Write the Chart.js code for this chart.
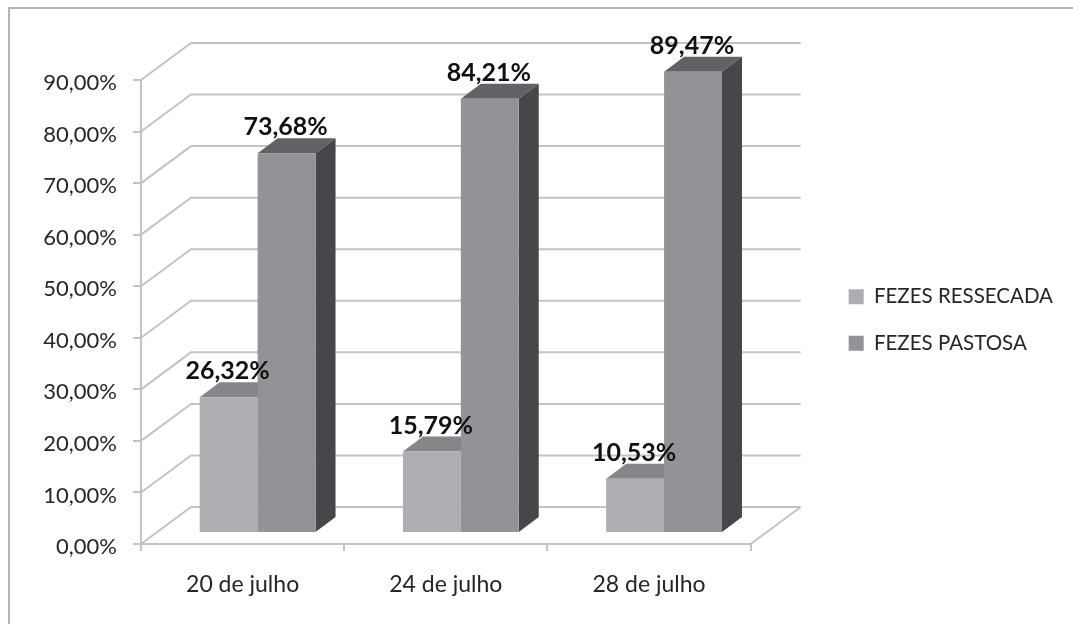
<!DOCTYPE html>
<html>
<head>
<meta charset="utf-8">
<script src="https://cdn.jsdelivr.net/npm/chart.js@4"></script>
<style>
  html, body { margin: 0; padding: 0; background: #fff; overflow: hidden; }
  #wrap { position: relative; width: 1073px; height: 624px; }
  #frame { position: absolute; left: 8px; top: 7px; right: 0; bottom: 0; border-left: 2px solid #b4b4b4; border-top: 2px solid #b4b4b4; }
  #mycanvas { position: absolute; left: 0; top: 0; }
</style>
</head>
<body>
<div id="wrap">
  <div id="frame"></div>
  <canvas id="mycanvas" width="1073" height="624"></canvas>
</div>
<script>
var categories = ["20 de julho", "24 de julho", "28 de julho"];
var ressecada = [26.32, 15.79, 10.53];
var pastosa = [73.68, 84.21, 89.47];
var seriesNames = ["FEZES RESSECADA", "FEZES PASTOSA"];
var yTickLabels = ["0,00%", "10,00%", "20,00%", "30,00%", "40,00%", "50,00%", "60,00%", "70,00%", "80,00%", "90,00%"];
var ressecadaLabels = ["26,32%", "15,79%", "10,53%"];
var pastosaLabels = ["73,68%", "84,21%", "89,47%"];

// fake 3d: wall depth and where the bars sit inside it
var depthX = 50, depthY = 37;
var barX = 15, barY = 11, sideX = 20, sideY = 15;
var gridColor = "#c3c3c5";
var textColor = "#262626";
var fontName = "Lato";
var topColors = ["#868589", "#636165"];
var sideColors = ["#77767a", "#48464a"];

function poly(ctx, pts, color) {
  ctx.fillStyle = color;
  ctx.beginPath();
  ctx.moveTo(pts[0][0], pts[0][1]);
  for (var i = 1; i < pts.length; i++) ctx.lineTo(pts[i][0], pts[i][1]);
  ctx.closePath();
  ctx.fill();
}

var walls = {
  id: "walls",
  // legend sits away from the plot and higher than the layout puts it
  afterLayout: function(chart) {
    var lg = chart.legend;
    lg.left += 72;
    lg.right += 72;
    lg.top -= 32;
    lg.bottom -= 32;
  },
  beforeDatasetsDraw: function(chart) {
    var ctx = chart.ctx, yS = chart.scales.y, xS = chart.scales.x;
    ctx.save();
    ctx.strokeStyle = gridColor;
    ctx.lineWidth = 2;
    ctx.beginPath();
    yS.ticks.forEach(function(t) {
      var y = yS.getPixelForValue(t.value);
      ctx.moveTo(xS.left, y);
      ctx.lineTo(xS.left + depthX, y - depthY);
      ctx.lineTo(xS.right + depthX, y - depthY);
    });
    ctx.moveTo(xS.right, yS.bottom);
    ctx.lineTo(xS.right + depthX, yS.bottom - depthY);
    ctx.stroke();

    // tops and sides go under the library's front faces
    [0, 1].forEach(function(d) {
      chart.getDatasetMeta(d).data.forEach(function(b) {
        var l = b.x - b.width / 2 + barX, r = b.x + b.width / 2 + barX;
        var t = b.y - barY, bt = b.base - barY;
        poly(ctx, [[l, t], [l + sideX, t - sideY], [r + sideX, t - sideY], [r, t]], topColors[d]);
        poly(ctx, [[r, t], [r + sideX, t - sideY], [r + sideX, bt - sideY], [r, bt]], sideColors[d]);
      });
    });
    ctx.restore();

    ctx.save();
    ctx.translate(barX, -barY);
  },
  afterDatasetsDraw: function(chart) {
    var ctx = chart.ctx;
    ctx.restore();

    ctx.save();
    ctx.font = "bold 25px " + fontName;
    ctx.fillStyle = "#111";
    ctx.textAlign = "center";
    ctx.textBaseline = "middle";
    [ressecadaLabels, pastosaLabels].forEach(function(labels, d) {
      chart.getDatasetMeta(d).data.forEach(function(b, i) {
        ctx.fillText(labels[i], b.x + barX - 1, b.y - barY - 26);
      });
    });
    ctx.restore();
  }
};

var ctx = document.getElementById("mycanvas");

var Graph = new Chart(ctx, {
  type: "bar",
  data: {
    labels: categories,
    datasets: [
      { label: seriesNames[0], data: ressecada, backgroundColor: "#adaeb1", borderWidth: 0, clip: false },
      { label: seriesNames[1], data: pastosa, backgroundColor: "#939296", borderWidth: 0, clip: false }
    ]
  },
  options: {
    responsive: false,
    animation: false,
    layout: { padding: { left: 0, top: 80, right: 82, bottom: 0 } },
    datasets: { bar: { categoryPercentage: 0.57, barPercentage: 1 } },
    plugins: {
      tooltip: { enabled: false },
      legend: {
        position: "right",
        align: "center",
        labels: {
          boxWidth: 15,
          boxHeight: 15,
          padding: 26,
          color: textColor,
          font: { family: fontName, size: 20.5 }
        }
      }
    },
    scales: {
      x: {
        afterFit: function(s) { s.height = 80; },
        grid: { drawOnChartArea: false, color: gridColor, lineWidth: 2, tickLength: 7, offset: true },
        border: { color: gridColor, width: 2 },
        ticks: { color: textColor, font: { family: fontName, size: 23 }, padding: 20, maxRotation: 0 }
      },
      y: {
        min: 0,
        max: 90,
        afterFit: function(s) { s.width = 141; },
        grid: { drawOnChartArea: false, color: gridColor, lineWidth: 2, tickLength: 8 },
        border: { color: gridColor, width: 2 },
        ticks: {
          stepSize: 10,
          color: textColor,
          font: { family: fontName, size: 22 },
          padding: 16,
          labelOffset: 3,
          callback: function(v, i) { return yTickLabels[i]; }
        }
      }
    }
  },
  plugins: [walls]
});
</script>
</body>
</html>
